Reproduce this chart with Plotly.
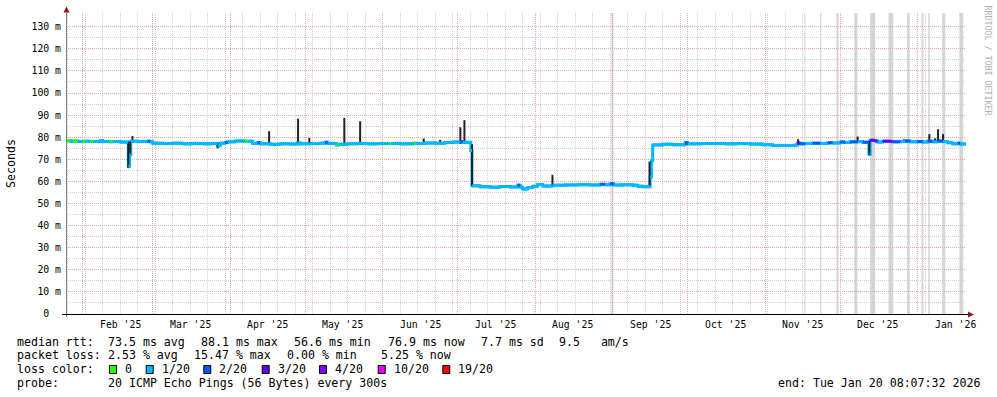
import plotly.graph_objects as go
import pandas as pd

# ---------------- data ----------------
END_TIME = "2026-01-20 08:07:32"
SPAN_DAYS = 360

# median rtt (ms) per consolidated step, with loss category (index into loss_colors)
med_dates = [
    "2025-01-25 08:00", "2025-01-27 00:00", "2025-01-28 00:00", "2025-01-30 00:00", "2025-02-01 00:00",
    "2025-02-02 00:00", "2025-02-04 00:00", "2025-02-05 00:00", "2025-02-08 00:00", "2025-02-09 00:00",
    "2025-02-12 00:00", "2025-02-13 00:00", "2025-02-16 00:00", "2025-02-19 06:00", "2025-02-19 18:00",
    "2025-02-20 06:00", "2025-02-23 00:00", "2025-02-26 00:00", "2025-02-27 00:00", "2025-02-28 00:00",
    "2025-03-01 00:00", "2025-03-05 00:00", "2025-03-09 00:00", "2025-03-13 00:00", "2025-03-17 00:00",
    "2025-03-21 00:00", "2025-03-25 00:00", "2025-03-27 00:00", "2025-03-28 00:00", "2025-03-30 00:00",
    "2025-03-31 00:00", "2025-04-03 00:00", "2025-04-07 00:00", "2025-04-08 00:00", "2025-04-10 00:00",
    "2025-04-12 00:00", "2025-04-13 00:00", "2025-04-17 00:00", "2025-04-21 00:00", "2025-04-25 00:00",
    "2025-04-28 00:00", "2025-04-29 00:00", "2025-05-03 00:00", "2025-05-07 00:00", "2025-05-09 00:00",
    "2025-05-10 00:00", "2025-05-13 12:00", "2025-05-14 06:00", "2025-05-18 00:00", "2025-05-22 00:00",
    "2025-05-26 00:00", "2025-05-30 00:00", "2025-06-03 12:00", "2025-06-04 06:00", "2025-06-08 00:00",
    "2025-06-13 12:00", "2025-06-14 06:00", "2025-06-18 00:00", "2025-06-22 00:00", "2025-06-26 00:00",
    "2025-06-29 00:00", "2025-07-02 00:00", "2025-07-03 00:00", "2025-07-06 06:00", "2025-07-06 18:00",
    "2025-07-10 00:00", "2025-07-14 00:00", "2025-07-18 00:00", "2025-07-22 00:00", "2025-07-25 00:00",
    "2025-07-26 00:00", "2025-07-27 00:00", "2025-07-29 00:00", "2025-07-31 00:00", "2025-08-02 00:00",
    "2025-08-04 00:00", "2025-08-08 00:00", "2025-08-13 00:00", "2025-08-18 00:00", "2025-08-23 00:00",
    "2025-08-27 00:00", "2025-08-29 00:00", "2025-08-31 00:00", "2025-09-01 12:00", "2025-09-05 00:00",
    "2025-09-09 00:00", "2025-09-11 00:00", "2025-09-13 00:00", "2025-09-16 00:00", "2025-09-16 12:00",
    "2025-09-17 00:00", "2025-09-21 00:00", "2025-09-25 00:00", "2025-09-30 00:00", "2025-10-01 00:00",
    "2025-10-06 00:00", "2025-10-11 00:00", "2025-10-16 00:00", "2025-10-21 00:00", "2025-10-26 00:00",
    "2025-10-31 00:00", "2025-11-04 00:00", "2025-11-09 00:00", "2025-11-13 00:00", "2025-11-14 00:00",
    "2025-11-15 00:00", "2025-11-17 00:00", "2025-11-20 00:00", "2025-11-23 00:00", "2025-11-26 00:00",
    "2025-11-28 00:00", "2025-12-01 00:00", "2025-12-03 00:00", "2025-12-05 00:00", "2025-12-08 00:00",
    "2025-12-10 00:00", "2025-12-12 12:00", "2025-12-13 00:00", "2025-12-15 00:00", "2025-12-16 00:00",
    "2025-12-18 00:00", "2025-12-21 00:00", "2025-12-22 00:00", "2025-12-25 00:00", "2025-12-27 00:00",
    "2025-12-29 00:00", "2026-01-01 00:00", "2026-01-03 00:00", "2026-01-05 00:00", "2026-01-07 00:00",
    "2026-01-09 00:00", "2026-01-11 00:00", "2026-01-13 00:00", "2026-01-15 00:00", "2026-01-17 00:00",
    "2026-01-18 00:00",
]
med_rtt = [
    78.4, 78.2, 78.3, 78.1, 78.0,
    78.2, 78.0, 78.1, 78.5, 78.0,
    77.9, 78.1, 77.8, 66.8, 72.1,
    78.2, 78.0, 78.1, 78.2, 77.9,
    77.3, 77.1, 77.3, 77.0, 77.2,
    77.0, 77.2, 76.1, 77.3, 77.6,
    77.9, 78.3, 78.0, 78.2, 77.2,
    77.6, 77.0, 76.8, 77.0, 76.9,
    77.5, 77.0, 77.1, 77.3, 77.7,
    77.2, 76.5, 76.8, 77.0, 77.2,
    77.0, 77.1, 77.1, 77.2, 77.0,
    77.3, 77.2, 77.4, 77.3, 77.6,
    77.8, 78.0, 77.7, 74.0, 58.0,
    57.6, 57.4, 57.7, 57.5, 58.3,
    57.4, 56.6, 57.2, 57.8, 58.6,
    57.9, 58.3, 58.4, 58.5, 58.4,
    58.7, 58.5, 58.9, 58.4, 58.5,
    58.3, 57.8, 57.6, 62.0, 69.3,
    76.5, 76.8, 76.6, 77.6, 77.0,
    77.1, 77.2, 77.0, 77.1, 76.9,
    76.6, 76.3, 76.2, 76.5, 77.4,
    77.0, 77.2, 77.3, 77.2, 77.5,
    77.4, 77.8, 77.6, 77.9, 78.0,
    77.7, 72.3, 78.6, 78.3, 77.8,
    78.2, 78.1, 77.9, 78.0, 78.3,
    77.9, 78.0, 77.8, 78.2, 77.9,
    78.3, 78.0, 77.5, 77.0, 77.3,
    76.9,
]
med_loss = [
    0, 1, 0, 1, 0,
    1, 0, 1, 1, 1,
    0, 1, 1, 1, 1,
    1, 1, 1, 2, 1,
    1, 1, 1, 1, 1,
    1, 1, 1, 1, 2,
    1, 1, 0, 1, 1,
    2, 1, 1, 1, 1,
    1, 1, 1, 1, 2,
    1, 0, 1, 1, 1,
    1, 1, 0, 1, 1,
    0, 1, 1, 1, 1,
    1, 2, 1, 1, 1,
    1, 1, 1, 1, 2,
    1, 1, 1, 1, 1,
    1, 1, 1, 1, 1,
    2, 1, 2, 1, 1,
    1, 1, 1, 1, 1,
    1, 1, 1, 2, 1,
    1, 1, 1, 1, 1,
    1, 1, 1, 1, 3,
    2, 1, 2, 1, 2,
    1, 2, 1, 2, 1,
    2, 2, 3, 3, 1,
    3, 4, 2, 1, 2,
    1, 2, 1, 2, 1,
    2, 1, 1, 1, 2,
    1,
]

# smoke spikes (ms): dark vertical spreads
spike_dates = [
    "2025-02-19 06:00", "2025-02-20 00:00", "2025-02-20 22:00", "2025-03-27 00:00", "2025-04-16 14:00",
    "2025-04-28 04:00", "2025-05-02 16:00", "2025-05-16 16:00", "2025-05-23 00:00", "2025-06-17 10:00",
    "2025-06-24 00:00", "2025-07-02 02:00", "2025-07-03 17:00", "2025-07-06 18:00", "2025-08-07 22:00",
    "2025-09-15 18:00", "2025-09-30 12:00", "2025-11-14 04:00", "2025-12-08 00:00", "2025-12-12 16:00",
    "2025-12-26 12:00", "2026-01-05 16:00", "2026-01-08 00:00", "2026-01-09 04:00", "2026-01-11 04:00",
]
spike_low = [
    66.0, 72.0, 77.5, 75.0, 77.0,
    77.0, 76.8, 76.8, 76.8, 77.0,
    77.2, 77.0, 77.0, 58.0, 57.8,
    58.0, 76.6, 76.5, 77.5, 72.0,
    77.8, 77.8, 77.8, 77.8, 77.8,
]
spike_high = [
    78.0, 78.0, 80.5, 77.3, 82.7,
    88.4, 79.7, 88.7, 87.2, 79.4,
    78.8, 84.5, 87.7, 76.8, 63.0,
    69.0, 78.0, 79.1, 80.3, 78.5,
    79.0, 81.4, 79.5, 83.6, 81.4,
]

# full-height grey bands
band_start = [
    "2025-08-31 12:00", "2025-11-16 16:00", "2025-11-23 02:00", "2025-11-29 12:00", "2025-12-06 16:00",
    "2025-12-13 00:00", "2025-12-20 08:00", "2025-12-27 20:00", "2026-01-02 12:00", "2026-01-05 06:00",
    "2026-01-10 22:00", "2026-01-17 16:00",
]
band_end = [
    "2025-09-01 08:00", "2025-11-17 02:00", "2025-11-23 12:00", "2025-11-30 08:00", "2025-12-07 22:00",
    "2025-12-15 00:00", "2025-12-22 06:00", "2025-12-28 20:00", "2026-01-03 08:00", "2026-01-05 20:00",
    "2026-01-12 02:00", "2026-01-19 06:00",
]

loss_labels = ["0", "1/20", "2/20", "3/20", "4/20", "10/20", "19/20"]
loss_colors = ["#26ff00", "#00b8ff", "#0059ff", "#5e00ff", "#7e00ff", "#dd00ff", "#ff0000"]

ytick_vals = [0, 10, 20, 30, 40, 50, 60, 70, 80, 90, 100, 110, 120, 130]
ytick_text = ["0\u00a0\u00a0"] + [f"{v} m" for v in ytick_vals[1:]]
yminor_vals = [5, 15, 25, 35, 45, 55, 65, 75, 85, 95, 105, 115, 125]

stats_rtt = ["73.5 ms avg", "88.1 ms max", "56.6 ms min", "76.9 ms now", "7.7 ms sd", "9.5   am/s"]
stats_loss = ["2.53 % avg", "15.47 % max", "0.00 % min", "5.25 % now"]
probe_text = "20 ICMP Echo Pings (56 Bytes) every 300s"
end_text = "end: Tue Jan 20 08:07:32 2026"

# ---------------- styling ----------------
FONT = "DejaVu Sans Mono"
MGRID = "#e8a6a6"
GRID = "#d0d0d0"
L_PX, R_PX, T_PX, B_PX = 66, 966, 13, 314
W, H = 997, 397


def pxx(x):
    return (x - L_PX) / (R_PX - L_PX)


def pxy(y):
    return (B_PX - y) / (B_PX - T_PX)


end_ts = pd.Timestamp(END_TIME)
start_ts = end_ts - pd.Timedelta(days=SPAN_DAYS)
month_starts = pd.date_range(start_ts.normalize(), end_ts, freq="MS")
sundays = pd.date_range(start_ts.normalize(), end_ts, freq="W-SUN")

fig = go.Figure()

# median base line in the 1/20 colour, stepped with vertical connectors
t_all = [pd.Timestamp(d) for d in med_dates] + [end_ts]
fig.add_trace(go.Scatter(x=t_all, y=med_rtt + [med_rtt[-1]], mode="lines", line_shape="hv",
                         line=dict(color=loss_colors[1], width=3), hoverinfo="skip"))

# smoke spikes
sx, sy = [], []
for d, lo, hi in zip(spike_dates, spike_low, spike_high):
    sx += [d, d, None]
    sy += [lo, hi, None]
fig.add_trace(go.Scatter(x=sx, y=sy, mode="lines", line=dict(color="#222222", width=2),
                         hoverinfo="skip"))

# median steps, one trace per loss colour (horizontal steps on top)
for code in [1, 0, 2, 3, 4, 5, 6]:
    xs, ys = [], []
    for i, (v, c) in enumerate(zip(med_rtt, med_loss)):
        if c != code:
            continue
        t0 = t_all[i]
        t1 = t_all[i + 1]
        xs += [t0, t1, None]
        ys += [v, v, None]
    if xs:
        fig.add_trace(go.Scatter(x=xs, y=ys, mode="lines",
                                 line=dict(color=loss_colors[code], width=3),
                                 hoverinfo="skip"))

shapes = []
for s, e in zip(band_start, band_end):
    shapes.append(dict(type="rect", xref="x", yref="paper", x0=s, x1=e, y0=0, y1=1,
                       fillcolor="#d6d6d6", line=dict(width=0), layer="below"))

# axis lines + arrows
shapes.append(dict(type="line", xref="paper", yref="paper", x0=pxx(66.5), x1=pxx(66.5),
                   y0=pxy(317), y1=pxy(10), line=dict(color="#808080", width=1)))
shapes.append(dict(type="line", xref="paper", yref="paper", x0=pxx(62), x1=pxx(970),
                   y0=pxy(314.5), y1=pxy(314.5), line=dict(color="#000000", width=1)))
shapes.append(dict(type="path", xref="paper", yref="paper",
                   path=f"M {pxx(63.5)},{pxy(12.5)} L {pxx(69.5)},{pxy(12.5)} L {pxx(66.5)},{pxy(6.5)} Z",
                   fillcolor="#8b1a1a", line=dict(color="#8b1a1a", width=0)))
shapes.append(dict(type="path", xref="paper", yref="paper",
                   path=f"M {pxx(968)},{pxy(311.5)} L {pxx(968)},{pxy(317.5)} L {pxx(974)},{pxy(314.5)} Z",
                   fillcolor="#8b1a1a", line=dict(color="#8b1a1a", width=0)))

annotations = []


def ann(x, y, text, size=11.6, xanchor="left", color="#000000", angle=0, yanchor="middle"):
    annotations.append(dict(xref="paper", yref="paper", x=pxx(x), y=pxy(y), text=text,
                            showarrow=False, xanchor=xanchor, yanchor=yanchor, textangle=angle,
                            borderpad=0, font=dict(family=FONT, size=size, color=color)))


# month labels (x axis), centred mid-month
for m in month_starts:
    mid = m + pd.Timedelta(days=15)
    if start_ts <= mid <= end_ts:
        annotations.append(dict(xref="x", yref="paper", x=mid, y=pxy(324),
                                text=f"{m:%b} '{m:%y}", showarrow=False, xanchor="center",
                                yanchor="middle", borderpad=0,
                                font=dict(family=FONT, size=9.8, color="#000000")))

# y title and watermark
ann(11, 164, "Seconds", angle=-90, xanchor="center")
ann(987.5, 60, "RRDTOOL / TOBI OETIKER", size=8.3, angle=90, xanchor="center", color="#b0b0b0")

# legend block
row1, row2, row3, row4 = 341.5, 355.2, 369.2, 383
ann(16, row1, "median rtt:")
for x, t in zip([107.3, 200, 293.3, 386.7, 479.5, 558.3], stats_rtt):
    ann(x, row1, t)
ann(16, row2, "packet loss:")
for x, t in zip([107.3, 193.3, 286, 380], stats_loss):
    ann(x, row2, t)
ann(16, row3, "loss color:")
sq_x = [109, 145.7, 203.3, 261.7, 319, 377.7, 442.3]
for x, lab, col in zip(sq_x, loss_labels, loss_colors):
    shapes.append(dict(type="rect", xref="paper", yref="paper", x0=pxx(x + 0.5), x1=pxx(x + 7.5),
                       y0=pxy(373.5), y1=pxy(365.5), fillcolor=col,
                       line=dict(color="#000000", width=1)))
    ann(x + 15, row3, lab)
ann(16, row4, "probe:")
ann(107.3, row4, probe_text)
ann(980.5, row4, end_text, xanchor="right")

fig.update_layout(
    width=W, height=H,
    margin=dict(l=L_PX, r=W - R_PX, t=T_PX, b=H - B_PX, pad=0),
    paper_bgcolor="white", plot_bgcolor="white", showlegend=False,
    font=dict(family=FONT, size=11.6, color="#000000"),
    xaxis=dict(type="date", range=[start_ts, end_ts], tickmode="array", tickvals=list(month_starts),
               showticklabels=False, ticks="", showgrid=True, gridcolor=MGRID, gridwidth=1,
               griddash="1px,1px", zeroline=False, showline=False, fixedrange=True,
               minor=dict(tickmode="array", tickvals=list(sundays), showgrid=True, gridcolor=GRID,
                          gridwidth=1, griddash="1px,1px", ticks="")),
    yaxis=dict(range=[0, 136.2], tickmode="array", tickvals=ytick_vals, ticktext=ytick_text,
               ticks="", showgrid=True, gridcolor=MGRID, gridwidth=1, griddash="1px,1px",
               zeroline=False, showline=False, ticklabelstandoff=4, fixedrange=True,
               tickfont=dict(family=FONT, size=9.8, color="#000000"),
               minor=dict(tickmode="array", tickvals=yminor_vals, showgrid=True, gridcolor=GRID,
                          gridwidth=1, griddash="1px,1px", ticks="")),
    shapes=shapes,
    annotations=annotations,
)

fig.write_html("out.html", config={"displayModeBar": False, "staticPlot": True},
               post_script="document.body.style.margin='0px';document.body.style.overflow='hidden';")
